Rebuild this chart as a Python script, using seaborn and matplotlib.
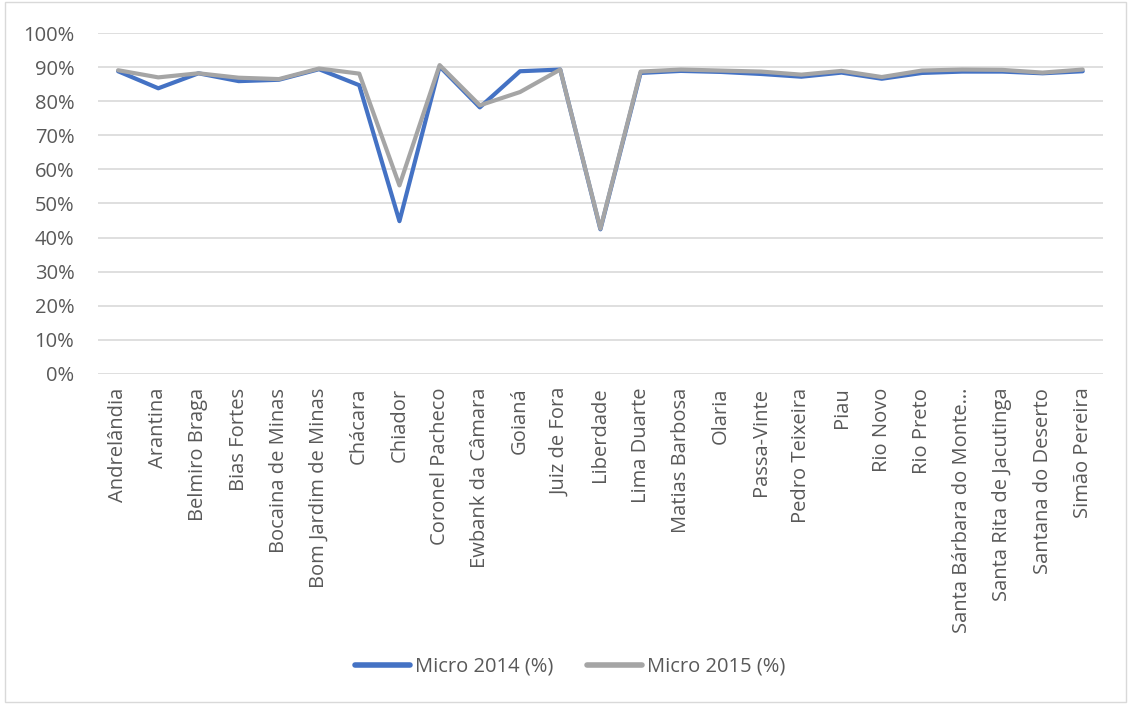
import matplotlib
matplotlib.use("Agg")
import matplotlib.pyplot as plt
import seaborn as sns
import pandas as pd
from matplotlib.patches import Rectangle
from matplotlib.ticker import PercentFormatter

categories = ["Andrelândia", "Arantina", "Belmiro Braga", "Bias Fortes", "Bocaina de Minas",
              "Bom Jardim de Minas", "Chácara", "Chiador", "Coronel Pacheco", "Ewbank da Câmara",
              "Goianá", "Juiz de Fora", "Liberdade", "Lima Duarte", "Matias Barbosa", "Olaria",
              "Passa-Vinte", "Pedro Teixeira", "Piau", "Rio Novo", "Rio Preto",
              "Santa Bárbara do Monte…", "Santa Rita de Jacutinga", "Santana do Deserto", "Simão Pereira"]
micro_2014 = [88.8, 83.8, 88.2, 85.9, 86.3, 89.4, 84.7, 44.8, 90.2, 78.2, 88.8, 89.3, 42.4,
              88.3, 88.9, 88.6, 88.0, 87.2, 88.4, 86.6, 88.3, 88.7, 88.7, 88.2, 88.8]
micro_2015 = [89.1, 87.0, 88.2, 86.9, 86.5, 89.6, 88.1, 55.3, 90.6, 78.8, 82.7, 89.3, 42.6,
              88.7, 89.3, 89.0, 88.7, 87.8, 88.9, 87.1, 89.0, 89.3, 89.2, 88.4, 89.3]
series_names = ["Micro 2014 (%)", "Micro 2015 (%)"]

df = pd.DataFrame({"cat": categories * 2,
                   "x": list(range(len(categories))) * 2,
                   "value": [v / 100 for v in micro_2014 + micro_2015],
                   "series": [series_names[0]] * len(categories) + [series_names[1]] * len(categories)})

sns.set_theme(style="white")
plt.rcParams["font.family"] = ["Open Sans", "DejaVu Sans"]

FS = 14.5
TXT = "#595959"

fig = plt.figure(figsize=(11.29, 7.04), dpi=100)
ax = fig.add_axes([0.0868, 0.469, 0.890, 0.484])

sns.lineplot(data=df, x="x", y="value", hue="series", sort=False,
             palette={series_names[0]: "#4472C4", series_names[1]: "#A5A5A5"},
             linewidth=3.0, ax=ax, legend=True)
for ln in ax.get_lines():
    ln.set_solid_joinstyle("round")
    ln.set_solid_capstyle("round")

ax.set_xlim(-0.5, len(categories) - 0.5)
ax.set_ylim(0, 1.0)
ax.set_yticks([i / 10 for i in range(11)])
ax.yaxis.set_major_formatter(PercentFormatter(1.0, decimals=0))
ax.set_xticks(range(len(categories)))
ax.set_xticklabels(categories, rotation=90, fontsize=FS, color=TXT)
ax.tick_params(axis="y", labelsize=FS, labelcolor=TXT, length=0, pad=17)
ax.tick_params(axis="x", length=0, pad=10)
ax.grid(axis="y", color="#D9D9D9", linewidth=1.2)
ax.set_axisbelow(True)
for s in ax.spines.values():
    s.set_visible(False)
ax.set_xlabel("")
ax.set_ylabel("")

handles, labels = ax.get_legend_handles_labels()
ax.legend_.remove()
for h in handles:
    h.set_linewidth(4)
    h.set_solid_capstyle("round")
fig.legend(handles, labels, loc="center", bbox_to_anchor=(0.505, 0.0526), ncol=2,
           frameon=False, fontsize=FS, labelcolor=TXT, handlelength=2.7,
           handletextpad=0.25, columnspacing=1.7)

fig.patches.append(Rectangle((5 / 1129, 2 / 704), 1121 / 1129, 700 / 704, transform=fig.transFigure,
                             fill=False, edgecolor="#D9D9D9", linewidth=1))

fig.savefig("out.png", dpi=100)
